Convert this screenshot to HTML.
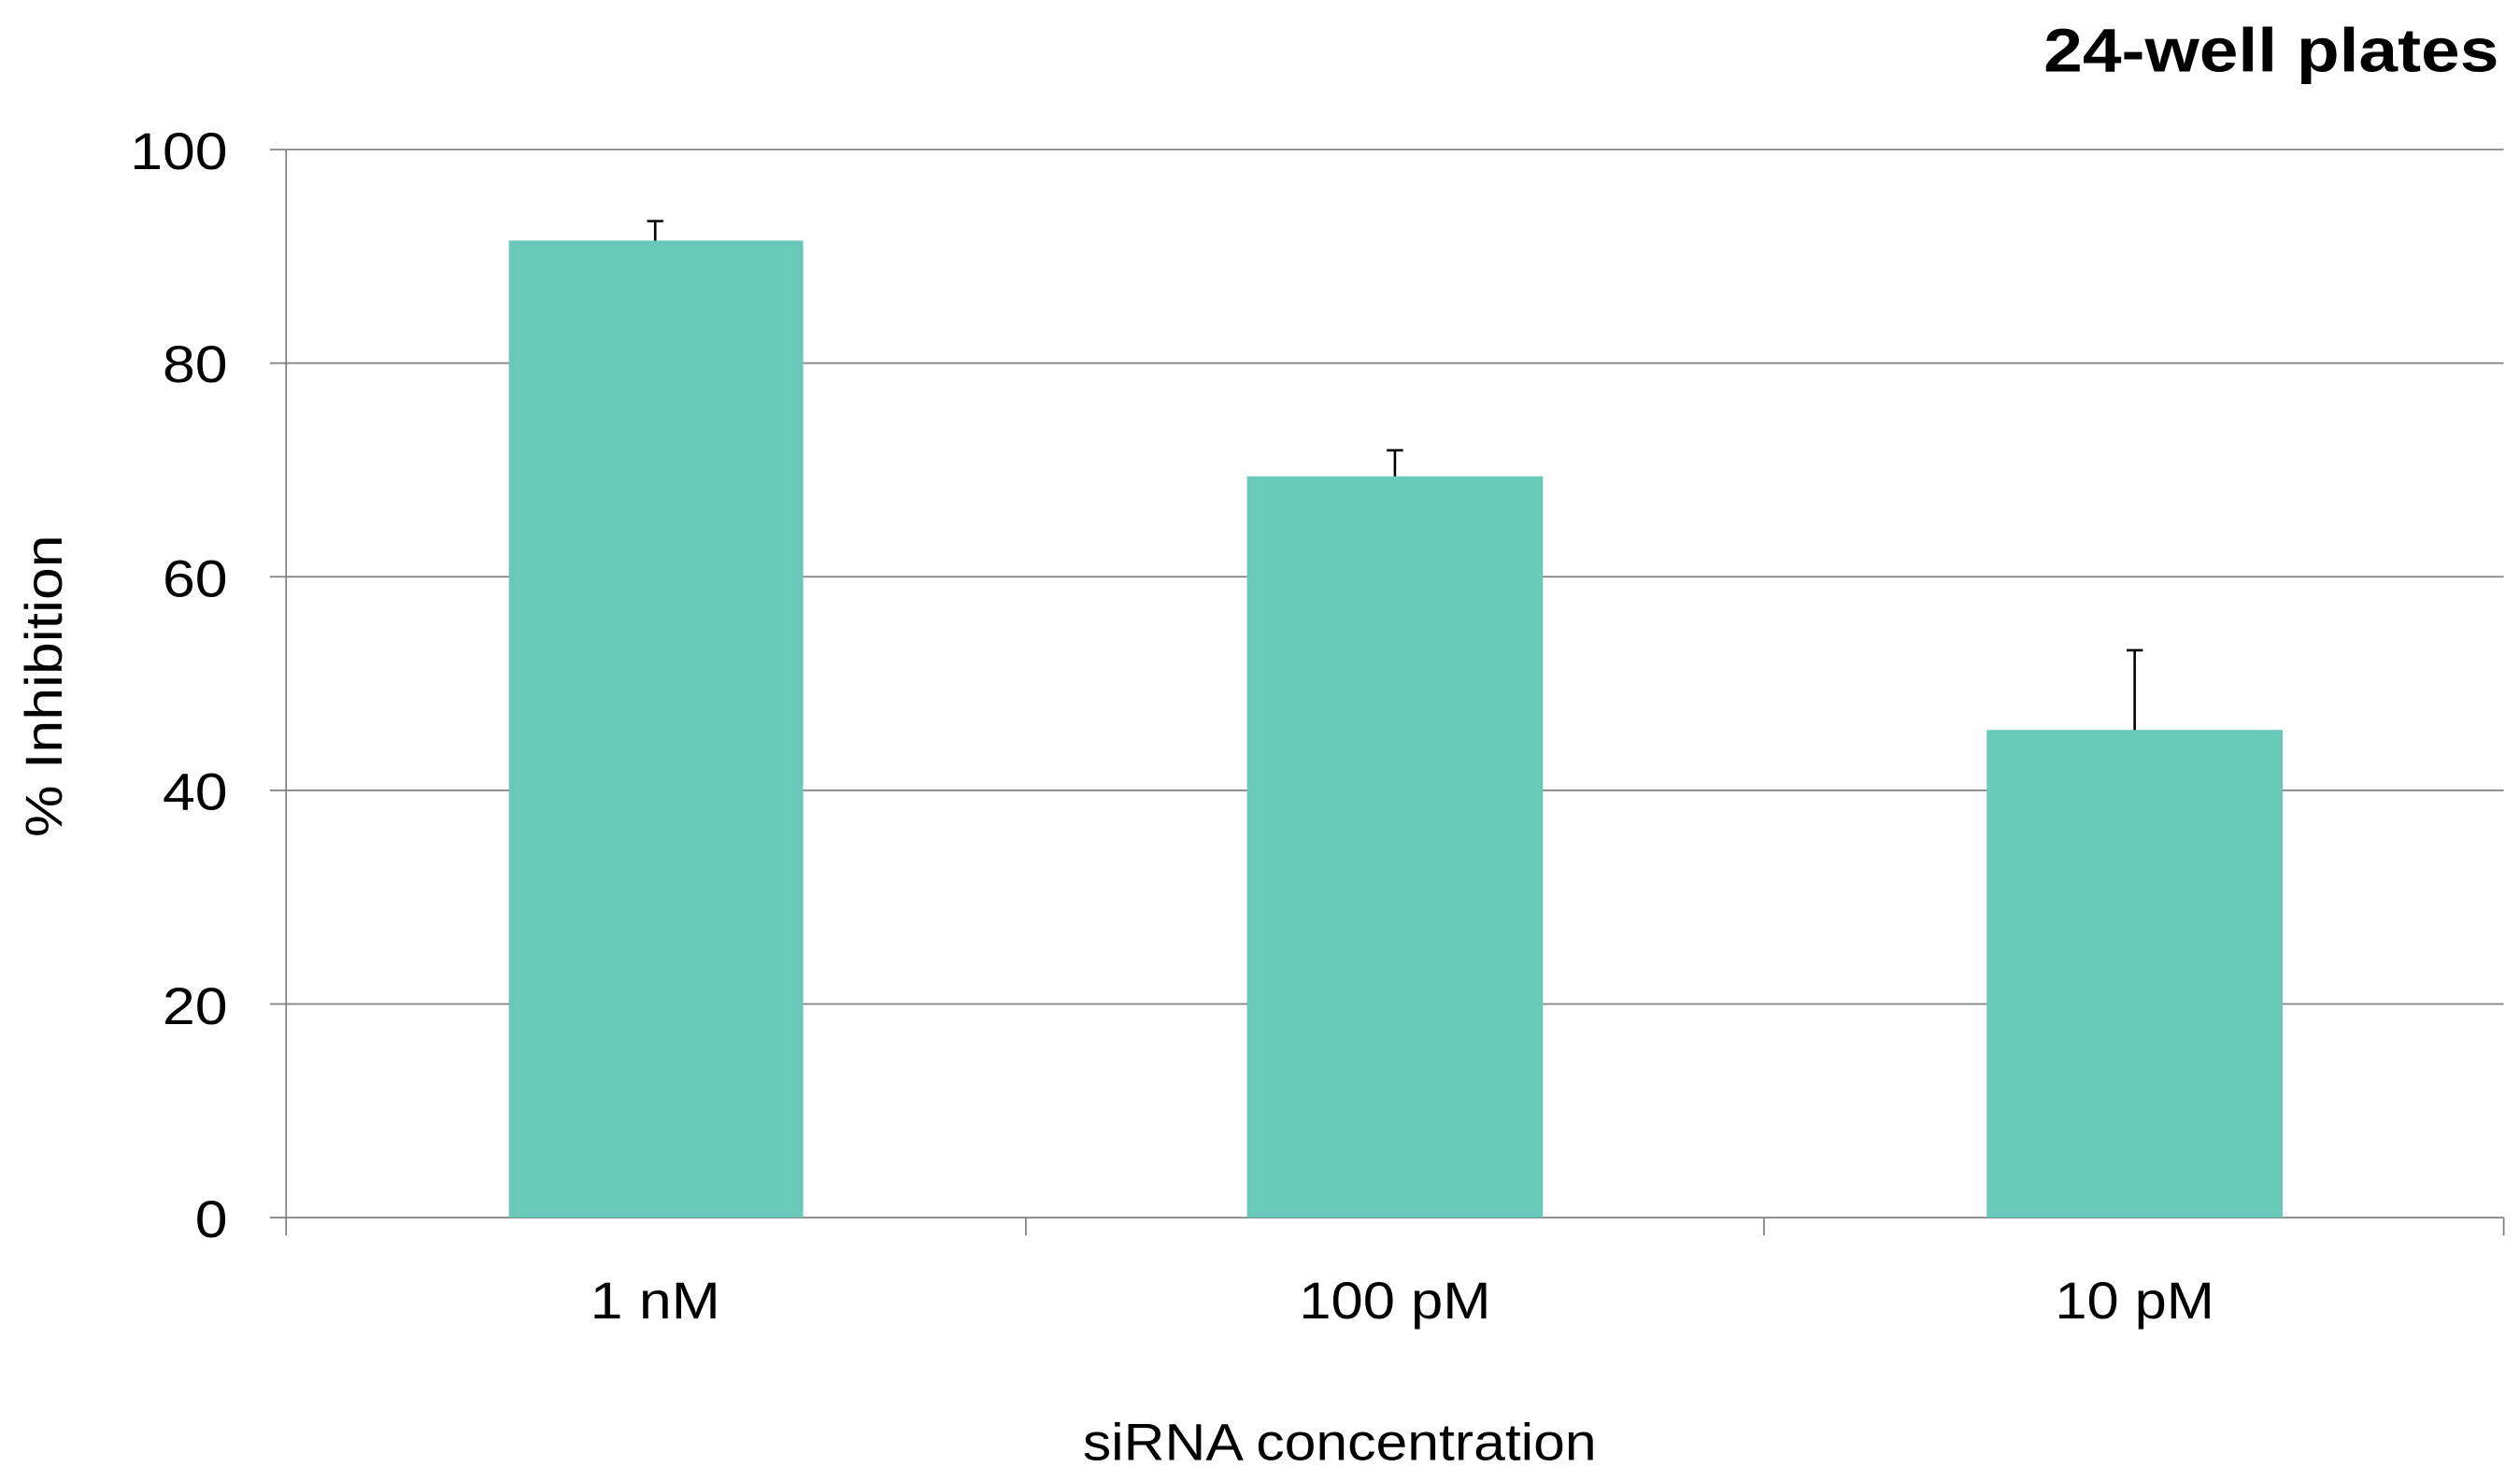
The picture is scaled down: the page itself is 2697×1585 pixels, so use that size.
<!DOCTYPE html>
<html><head><style>html,body{margin:0;padding:0;background:#fff;}svg{display:block;}</style></head>
<body>
<svg width="2697" height="1585" viewBox="0 0 1550 911" preserveAspectRatio="none" xmlns="http://www.w3.org/2000/svg" font-family="Liberation Sans, DejaVu Sans, sans-serif">
<g stroke="#808080" stroke-width="1">
<line x1="166" y1="92" x2="1540" y2="92"/>
<line x1="166" y1="223.4" x2="1540" y2="223.4"/>
<line x1="166" y1="354.8" x2="1540" y2="354.8"/>
<line x1="166" y1="486.2" x2="1540" y2="486.2"/>
<line x1="166" y1="617.6" x2="1540" y2="617.6"/>
<line x1="166" y1="749" x2="1540" y2="749"/>
<line x1="176" y1="92" x2="176" y2="760"/>
<line x1="631" y1="749" x2="631" y2="760"/>
<line x1="1085" y1="749" x2="1085" y2="760"/>
<line x1="1540" y1="749" x2="1540" y2="760"/>
</g>
<g fill="#68c9b9">
<rect x="313" y="148" width="181" height="601"/>
<rect x="767" y="293" width="182" height="456"/>
<rect x="1222" y="449" width="182" height="300"/>
</g>
<g stroke="#000" stroke-width="1.5">
<line x1="403" y1="136" x2="403" y2="148"/><line x1="398" y1="136" x2="408" y2="136"/>
<line x1="858" y1="277" x2="858" y2="293"/><line x1="853" y1="277" x2="863" y2="277"/>
<line x1="1313" y1="400" x2="1313" y2="449"/><line x1="1308" y1="400" x2="1318" y2="400"/>
</g>
<g font-size="32" fill="#000" text-anchor="end">
<text x="140" y="104" textLength="60" lengthAdjust="spacingAndGlyphs">100</text>
<text x="140" y="235" textLength="40" lengthAdjust="spacingAndGlyphs">80</text>
<text x="140" y="367" textLength="40" lengthAdjust="spacingAndGlyphs">60</text>
<text x="140" y="498" textLength="40" lengthAdjust="spacingAndGlyphs">40</text>
<text x="140" y="630" textLength="40" lengthAdjust="spacingAndGlyphs">20</text>
<text x="140" y="761" textLength="20" lengthAdjust="spacingAndGlyphs">0</text>
</g>
<g font-size="32" fill="#000" text-anchor="middle">
<text x="403" y="811" textLength="80" lengthAdjust="spacingAndGlyphs">1 nM</text>
<text x="858" y="811" textLength="118" lengthAdjust="spacingAndGlyphs">100 pM</text>
<text x="1313" y="811" textLength="98" lengthAdjust="spacingAndGlyphs">10 pM</text>
<text x="824" y="898" textLength="316" lengthAdjust="spacingAndGlyphs">siRNA concentration</text>
<text transform="translate(38,422) rotate(-90)" textLength="186" lengthAdjust="spacingAndGlyphs">% Inhibition</text>
</g>
<text x="1537" y="44" font-size="38" font-weight="bold" text-anchor="end" fill="#000" textLength="280" lengthAdjust="spacingAndGlyphs">24-well plates</text>
</svg>
</body></html>
